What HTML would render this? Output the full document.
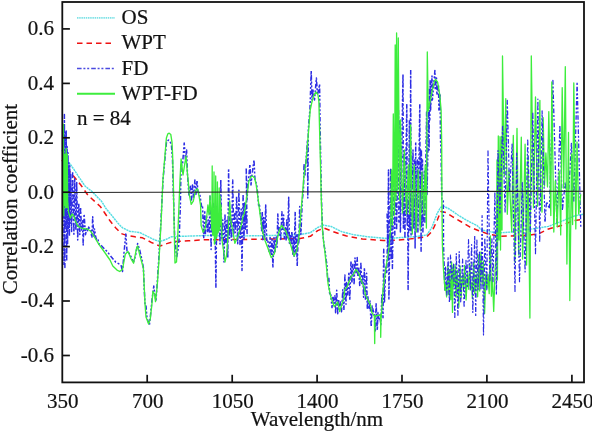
<!DOCTYPE html>
<html><head><meta charset="utf-8"><style>html,body{margin:0;padding:0;background:#fff;overflow:hidden}svg{display:block}</style></head>
<body><svg width="592" height="433" viewBox="0 0 592 433">
<style>.t{font-family:"Liberation Serif","Times New Roman",serif;font-size:21px;fill:#111;stroke:#111;stroke-width:0.22px}</style>
<rect width="592" height="433" fill="#fff"/>
<g><polyline points="62.0,150.0 64.0,155.0 67.6,160.4 73.9,169.4 79.4,177.8 85.0,186.0 92.0,191.5 97.5,197.2 101.7,201.5 105.8,208.3 112.8,216.7 118.3,223.6 122.5,227.8 129.4,231.2 140.0,232.6 148.0,236.7 155.0,240.0 159.9,241.5 166.1,239.4 171.7,236.7 178.6,236.4 192.5,236.0 205.0,235.5 240.0,236.0 270.0,235.5 300.0,234.6 310.4,232.7 317.7,227.5 322.9,225.0 331.2,226.5 341.7,231.7 354.2,234.8 368.7,236.9 387.5,238.6 397.3,237.8 414.7,236.7 426.8,235.0 432.0,227.2 437.2,213.3 440.7,207.3 444.1,206.4 449.3,209.0 458.0,215.0 466.7,220.3 477.0,225.5 481.7,230.0 490.0,231.8 499.7,232.8 512.2,232.0 516.2,230.8 532.3,228.9 548.5,226.4 564.7,220.0 574.4,216.0 583.0,214.3" fill="none" stroke="#55dde2" stroke-width="1.45" stroke-dasharray="2.2 0.6" stroke-linejoin="round"/><polyline points="62.0,160.0 65.0,165.0 69.0,170.8 73.9,176.4 80.8,185.0 87.8,195.0 94.7,201.4 100.3,206.5 104.4,212.5 110.0,220.8 115.6,227.8 121.1,233.5 126.7,235.4 135.0,236.8 142.5,237.8 150.8,242.2 159.9,246.1 166.8,243.6 174.4,241.5 188.3,240.8 206.4,239.7 240.0,239.5 300.0,238.6 310.4,236.3 317.7,230.6 324.0,228.1 333.3,231.7 345.8,235.8 362.5,239.0 383.3,240.5 397.3,240.2 414.7,238.5 426.8,236.7 432.0,231.5 437.2,220.3 440.7,211.6 445.9,212.5 452.8,216.8 461.5,222.0 470.1,227.2 478.8,230.7 488.6,234.2 499.7,236.3 509.4,236.0 520.0,235.8 530.0,235.0 538.8,233.7 548.5,228.9 561.4,225.6 572.8,220.8 583.0,219.2" fill="none" stroke="#ee1111" stroke-width="1.5" stroke-dasharray="5.5 4" stroke-linejoin="round"/><polyline points="63.5,128.9 64.0,265.5 64.4,114.4 64.9,267.4 65.3,131.2 65.8,227.6 66.2,130.9 66.7,261.2 67.1,146.6 67.6,244.1 68.0,152.7 68.5,228.5 68.9,162.9 69.4,235.7 69.8,166.1 70.3,223.3 70.7,174.6 71.6,231.6 72.6,172.0 73.9,234.2 74.7,178.7 75.9,230.4 76.7,182.6 77.7,240.0 78.8,203.4 79.8,234.6 80.6,207.8 81.5,230.0 82.4,220.0 83.2,245.0 84.1,214.0 85.5,234.7 86.7,227.9 87.7,231.6 88.7,227.1 89.8,229.0 90.7,230.2 91.9,237.7 92.7,216.7 93.8,237.5 94.5,228.9 95.7,237.0 96.8,239.9 98.0,239.3 98.9,244.3 99.7,243.9 101.7,246.0 107.2,251.6 111.4,257.0 115.6,262.0 121.0,265.0 122.5,271.5 124.0,252.8 125.8,234.0 127.0,251.0 129.4,253.6 133.6,261.9 135.7,255.0 137.6,243.6 139.7,250.0 142.0,260.0 143.4,268.0 144.2,288.0 145.1,306.0 146.0,305.9 147.0,318.0 149.4,325.0 150.5,315.0 152.0,300.0 153.8,286.0 155.0,296.0 156.0,300.0 157.2,284.0 159.0,255.0 161.0,220.0 163.0,180.0 165.0,158.0 166.5,142.0 168.5,140.0 170.0,141.0 171.5,146.0 172.5,160.0 173.3,190.0 174.6,235.0 176.6,258.0 178.6,246.0 179.4,232.0 180.4,205.0 181.0,165.0 182.5,165.0 184.2,143.0 185.5,160.0 186.6,150.0 187.5,175.0 189.0,195.0 190.5,185.0 191.5,200.0 192.5,185.0 193.5,198.0 194.9,179.9 196.0,195.0 197.0,180.4 198.0,192.0 199.6,192.9 201.6,206.4 202.5,205.4 203.7,238.5 204.7,210.6 205.4,233.6 206.6,216.6 207.5,232.5 208.5,219.9 209.3,233.0 210.0,196.0 211.1,249.5 211.8,208.2 212.5,229.4 213.4,203.4 214.1,232.9 215.0,218.8 215.9,288.0 216.8,206.4 217.8,233.4 218.9,216.1 220.0,244.0 220.8,179.4 221.7,238.2 222.8,219.9 224.0,262.0 225.0,215.0 225.9,242.4 227.0,219.3 227.8,258.0 228.6,168.8 229.5,238.2 230.3,216.2 231.5,240.3 232.7,179.9 233.7,235.2 234.6,213.6 235.5,232.6 236.6,196.0 237.7,243.8 238.9,190.3 240.0,244.5 241.2,209.1 242.0,270.4 243.1,195.0 244.0,240.1 244.6,202.9 245.3,229.2 245.9,208.8 247.1,233.5 246.2,167.7 247.0,200.0 248.0,185.0 249.9,164.6 251.0,185.0 252.0,175.0 254.0,159.9 255.0,180.0 256.6,184.3 257.5,191.9 258.6,205.4 259.5,205.2 260.1,212.4 260.8,215.5 261.6,230.7 262.3,212.0 262.9,239.7 263.7,217.5 264.7,238.8 265.7,205.0 266.7,240.5 267.8,239.3 268.9,251.3 270.1,237.4 271.1,255.3 272.0,238.2 272.9,267.6 274.0,237.6 274.9,253.3 276.1,237.3 277.0,247.2 277.8,213.9 278.8,236.2 279.7,227.8 280.8,239.4 281.9,211.8 282.6,230.9 283.6,215.0 284.3,238.4 285.1,226.8 286.1,240.9 286.8,219.7 287.6,237.7 288.7,197.3 289.4,243.3 290.3,234.7 291.0,243.5 291.9,231.1 292.8,254.9 293.4,237.1 294.1,256.2 295.2,211.8 295.8,253.6 296.6,233.8 297.2,266.4 298.2,234.4 298.8,243.9 299.7,206.6 300.9,234.4 302.3,200.0 303.5,190.0 304.0,164.0 305.0,175.0 306.0,160.0 307.5,140.0 307.8,197.9 308.3,130.0 310.0,108.0 311.2,71.0 312.0,100.0 313.0,90.0 314.5,100.0 316.4,78.0 317.5,95.0 318.5,90.0 319.6,84.3 320.0,120.0 320.8,165.0 321.5,200.0 322.5,230.0 324.0,245.0 325.2,251.1 326.2,260.2 326.9,264.2 327.8,282.2 328.8,277.6 329.6,293.2 330.8,294.8 332.0,307.6 333.0,296.1 333.7,303.6 334.9,295.8 335.6,312.7 336.7,290.3 337.7,313.7 338.6,299.8 339.3,307.1 340.5,302.0 341.5,311.8 342.8,289.8 343.9,310.0 344.9,275.0 346.0,304.3 346.6,282.5 347.7,295.6 348.9,272.1 349.8,300.0 351.0,260.8 351.9,283.2 352.9,263.1 354.1,284.6 355.0,257.9 356.2,273.8 357.2,257.6 357.9,276.3 358.7,267.4 359.7,285.5 360.9,262.7 361.6,283.4 362.7,274.5 363.6,297.2 364.4,267.9 365.5,300.1 366.6,273.2 367.3,308.2 367.9,296.7 368.9,309.5 370.0,300.9 371.2,326.8 372.2,306.1 373.4,311.4 374.6,313.6 375.3,331.8 376.1,303.2 377.3,330.0 378.0,312.4 378.6,320.2 379.7,314.9 380.8,324.7 381.9,294.9 383.0,317.8 383.7,249.2 384.5,301.9 385.7,267.2 386.8,273.4 387.6,231.6 388.8,263.5 387.1,214.0 387.8,250.0 388.5,170.0 388.9,300.0 390.7,168.0 391.1,260.0 392.0,180.0 392.4,268.6 394.4,140.0 394.8,235.0 396.2,70.0 396.6,230.0 398.5,110.6 398.9,222.0 400.0,120.0 400.4,232.0 403.0,74.0 403.4,228.0 404.5,150.0 404.9,238.0 406.8,104.0 407.2,225.0 407.7,199.0 408.1,289.4 409.4,120.0 409.8,230.0 410.7,70.0 411.1,236.0 413.0,150.0 413.4,228.0 414.7,160.0 415.1,248.0 415.7,142.0 416.1,226.0 417.5,160.0 417.9,232.0 419.8,104.0 420.2,225.0 420.7,150.0 421.1,251.3 421.4,150.0 421.8,224.5 422.5,160.0 422.9,232.0 424.5,170.0 424.9,223.5 426.6,112.0 427.0,194.4 428.7,112.0 429.1,150.0 429.4,88.0 429.8,120.0 430.2,80.0 430.6,110.0 432.0,76.0 432.4,100.0 434.9,70.4 435.3,90.0 436.5,78.0 436.9,95.0 438.5,85.0 438.9,110.0 440.1,95.0 440.5,140.0 441.0,150.0 441.8,200.0 443.3,201.0 443.5,245.0 444.9,290.0 445.5,266.6" fill="none" stroke="#2d2de4" stroke-width="1.5" stroke-dasharray="4.6 1.8 2 1.8 2 2" stroke-linejoin="round"/><polyline points="545.0,221.7 546.5,201.7 549.5,208.9 552.9,80.4 556.9,222.8 559.9,125.5 562.4,210.4 565.2,182.3 567.8,207.9 571.4,143.5 573.8,201.0 577.1,82.0 580.8,227.5" fill="none" stroke="#2d2de4" stroke-width="1.3" stroke-dasharray="4.6 1.8 2 1.8 2 2" stroke-linejoin="round"/><polyline points="62.6,124.0 63.0,213.6 63.4,124.2 63.8,215.7 64.2,154.1 64.7,205.4 65.2,154.2 65.7,207.9 66.2,148.4 66.7,207.4 67.2,154.2 67.7,207.3 67.6,200.0 68.5,212.0 70.4,218.0 72.0,214.0 73.9,216.0 75.3,220.8 78.0,226.4 82.2,228.5 87.8,229.2 90.6,231.2 94.7,237.5 98.9,244.4 103.0,250.0 107.2,256.0 110.0,260.0 112.8,266.0 117.0,270.1 119.7,271.5 122.5,269.4 125.3,254.2 128.0,251.4 130.8,258.3 133.6,263.2 136.4,249.0 137.6,246.0 139.7,254.7 142.5,265.0 143.4,268.7 144.2,286.0 145.1,305.0 146.0,317.1 148.6,324.0 150.3,318.9 152.0,303.3 152.9,291.2 154.6,294.6 155.5,301.6 157.2,286.0 159.0,260.0 161.2,220.0 162.9,180.0 165.0,154.7 166.4,138.0 167.8,133.9 169.2,133.2 170.8,134.6 172.0,142.2 172.6,154.7 173.3,180.0 174.0,220.0 175.0,263.0 176.5,262.0 178.0,230.0 180.0,180.0 181.1,159.0 183.0,175.0 186.0,156.2 187.1,170.0 188.6,185.6 189.2,193.9 190.2,199.1 191.2,204.3 193.3,201.2 195.4,190.8 197.5,188.7 199.0,196.0 200.6,205.4 201.1,225.6 203.2,232.4" fill="none" stroke="#3ded3d" stroke-width="1.35" stroke-linejoin="round"/><polyline points="203.2,232.4 205.3,227.7 206.8,216.2 207.9,205.0 209.0,215.0 210.0,196.0 211.0,215.0 211.8,230.0 212.2,166.0 212.6,235.0 213.6,235.0 214.0,172.0 214.4,244.0 215.3,240.0 215.7,176.0 216.1,238.0 217.0,236.0 217.4,182.0 217.8,233.0 218.8,230.0 219.2,188.0 219.6,230.0 220.1,196.0 220.5,225.0 221.0,205.0 222.0,240.0 223.5,250.0 225.0,262.0 226.6,255.0 228.0,235.0 229.7,201.0 231.0,222.0 232.8,230.8 234.9,243.3 238.0,236.0 241.2,225.6 243.2,215.2 244.2,213.9 247.3,193.1" fill="none" stroke="#3ded3d" stroke-width="1.3" stroke-linejoin="round"/><polyline points="247.3,193.1 248.8,181.2 250.9,177.0 252.5,176.0 254.6,178.0 256.1,184.3 257.2,192.0 258.7,203.5 260.3,216.0 261.8,227.4 263.0,233.0 265.0,240.4 268.1,248.7 271.2,257.6 274.3,253.9 277.4,238.3 279.5,230.0 281.6,225.4 283.5,228.0 285.8,231.0 289.9,242.5 294.1,256.0 296.7,250.8 298.2,241.0 298.8,238.0 300.6,216.9 302.3,196.1 304.0,175.4 306.0,162.0 308.1,137.0 310.2,110.0 312.0,101.7 314.0,95.0 316.1,92.0 318.0,95.0 318.9,101.7 319.6,130.0 320.5,165.0 321.3,199.6 322.2,225.6 323.4,240.0 324.7,250.0 326.5,267.3 328.2,284.7 330.8,296.8 334.2,306.7 337.7,302.0 339.7,311.5 342.0,303.7 343.9,298.3 344.7,289.9 347.3,286.4 348.7,282.4 351.6,276.0 352.9,275.2 356.0,269.4 358.6,273.1 361.2,280.4 364.3,287.6 365.5,295.0 370.7,305.5 371.7,312.2 374.4,316.4 374.7,343.5 375.0,316.0 380.7,315.0 380.7,337.2 381.0,320.0 382.8,293.3 383.5,285.0 386.2,265.8" fill="none" stroke="#3ded3d" stroke-width="1.35" stroke-linejoin="round"/><polyline points="386.2,265.8 388.7,250.2 390.7,228.0 391.5,170.0 392.5,225.0 393.3,114.0 394.5,215.0 395.2,45.0 396.0,200.0 396.6,33.0 397.5,190.0 398.3,38.0 399.5,200.0 400.5,120.0 402.5,213.0 404.3,150.0 406.5,214.0 408.3,165.0 409.6,214.0 410.6,125.0 412.3,234.0 414.2,165.0 416.3,232.0 418.2,170.0 420.2,230.0 422.0,172.0 423.8,214.0 425.2,165.0 426.4,228.0 427.3,52.0 428.3,111.4" fill="none" stroke="#3ded3d" stroke-width="1.3" stroke-linejoin="round"/><polyline points="428.3,111.4 430.0,101.7 432.8,87.8 434.5,81.0 435.6,79.4 437.6,82.2 439.7,94.7 441.1,110.0 441.7,145.0 441.9,200.0 442.4,245.0 443.5,270.0" fill="none" stroke="#3ded3d" stroke-width="1.35" stroke-linejoin="round"/><polyline points="443.5,270.0 445.0,290.3 445.5,284.5 446.6,296.9 447.9,265.4 448.6,294.8 449.4,269.6 450.8,299.7 451.6,262.1 452.5,312.4 453.2,265.6 454.0,286.3 455.1,264.6 456.1,297.2 457.4,270.4 458.8,307.2 460.1,266.2 461.1,298.0 462.6,275.5 463.7,288.5 464.6,265.4 466.1,300.0 467.5,273.2 468.7,289.3 469.8,263.6 470.9,288.5 471.6,283.0 472.4,298.6 473.7,262.3 474.8,293.7 476.3,274.1 477.6,296.8 478.5,255.0 479.7,291.1 481.0,252.0 482.3,285.2 483.4,261.1 484.6,313.5 485.8,274.1 487.0,288.1 488.0,274.5 489.2,293.7 490.3,236.0 491.4,296.2 492.4,277.1 493.7,311.4 495.2,267.7 496.5,250.0 497.0,160.0 497.4,280.0 498.3,136.0 499.0,240.0 500.0,136.7 500.5,250.0 501.5,136.7 502.0,230.0 502.5,56.0 504.3,175.4 505.8,98.7 507.3,214.3 509.0,170.2 511.7,231.8 513.3,135.5 514.9,262.0 517.0,128.5 518.7,255.0 521.3,137.2 522.6,259.0 525.1,144.2 526.6,265.0 528.0,156.4 529.9,318.0 531.3,56.0 533.5,207.8 535.5,97.0 537.5,206.3 539.9,100.4 540.5,189.5 542.0,212.1 543.2,117.7 544.5,186.0 545.9,153.0 547.5,186.9 548.8,111.6 550.8,215.6 551.8,82.0 553.8,232.1 555.3,181.0 557.2,226.5 559.2,170.9 560.7,234.9 562.2,87.7 563.7,188.2 565.3,66.7 566.9,264.0 568.5,132.4 569.8,300.5 571.6,154.0 572.6,224.5 573.8,82.8 575.8,228.9 577.0,142.0 578.7,214.0 580.7,194.2" fill="none" stroke="#3ded3d" stroke-width="1.3" stroke-linejoin="round"/><polyline points="445.5,266.6 446.9,295.0 448.1,256.9 449.4,303.0 450.5,255.0 451.8,279.0 453.6,264.1 454.8,318.7 456.3,253.7 457.9,316.6 459.2,251.7 460.7,301.8 462.6,259.1 464.1,307.2 466.0,260.4 467.2,287.9 468.5,239.7 470.3,289.9 471.6,244.6 472.8,312.4 474.7,235.6 475.7,316.6 476.9,240.0 478.1,289.7 479.5,252.0 481.0,290.1 482.1,215.6 483.5,335.0 484.8,238.0 486.8,289.8 488.0,150.0 489.9,280.7 491.9,238.9 493.0,281.6 494.9,192.0 496.4,294.8 498.0,150.6 499.9,212.9 502.6,126.3 505.1,212.9 507.3,100.4 509.6,191.8 512.1,144.1 515.0,291.4 516.7,153.1 519.5,281.7 522.3,182.6 525.1,272.0 527.7,139.3 530.3,232.3 532.8,112.5 535.5,254.3 537.9,99.0 539.7,241.9 542.1,110.8 545.0,221.7" fill="none" stroke="#2d2de4" stroke-width="1.2" stroke-dasharray="4.6 1.8 2 1.8 2 2" stroke-linejoin="round"/></g>
<g><line x1="62.3" y1="192.5" x2="584.0" y2="191.2" stroke="#222" stroke-width="1.1"/><rect x="62.3" y="2.0" width="521.7" height="380.4" fill="none" stroke="#111" stroke-width="1.8"/><line x1="62.3" y1="28.9" x2="69.89999999999999" y2="28.9" stroke="#111" stroke-width="1.7"/><line x1="62.3" y1="83.4" x2="69.89999999999999" y2="83.4" stroke="#111" stroke-width="1.7"/><line x1="62.3" y1="137.8" x2="69.89999999999999" y2="137.8" stroke="#111" stroke-width="1.7"/><line x1="62.3" y1="192.2" x2="69.89999999999999" y2="192.2" stroke="#111" stroke-width="1.7"/><line x1="62.3" y1="246.6" x2="69.89999999999999" y2="246.6" stroke="#111" stroke-width="1.7"/><line x1="62.3" y1="301.0" x2="69.89999999999999" y2="301.0" stroke="#111" stroke-width="1.7"/><line x1="62.3" y1="355.5" x2="69.89999999999999" y2="355.5" stroke="#111" stroke-width="1.7"/><line x1="147.2" y1="382.4" x2="147.2" y2="374.79999999999995" stroke="#111" stroke-width="1.7"/><line x1="232.2" y1="382.4" x2="232.2" y2="374.79999999999995" stroke="#111" stroke-width="1.7"/><line x1="317.1" y1="382.4" x2="317.1" y2="374.79999999999995" stroke="#111" stroke-width="1.7"/><line x1="402.0" y1="382.4" x2="402.0" y2="374.79999999999995" stroke="#111" stroke-width="1.7"/><line x1="486.9" y1="382.4" x2="486.9" y2="374.79999999999995" stroke="#111" stroke-width="1.7"/><line x1="571.9" y1="382.4" x2="571.9" y2="374.79999999999995" stroke="#111" stroke-width="1.7"/></g>
<g><text x="54" y="35.2" text-anchor="end" class="t">0.6</text><text x="54" y="89.7" text-anchor="end" class="t">0.4</text><text x="54" y="144.1" text-anchor="end" class="t">0.2</text><text x="54" y="198.5" text-anchor="end" class="t">0.0</text><text x="54" y="252.9" text-anchor="end" class="t">-0.2</text><text x="54" y="307.3" text-anchor="end" class="t">-0.4</text><text x="54" y="361.8" text-anchor="end" class="t">-0.6</text><text x="62.8" y="407.5" text-anchor="middle" class="t">350</text><text x="147.7" y="407.5" text-anchor="middle" class="t">700</text><text x="232.7" y="407.5" text-anchor="middle" class="t">1050</text><text x="317.6" y="407.5" text-anchor="middle" class="t">1400</text><text x="402.5" y="407.5" text-anchor="middle" class="t">1750</text><text x="487.4" y="407.5" text-anchor="middle" class="t">2100</text><text x="572.4" y="407.5" text-anchor="middle" class="t">2450</text><text x="317" y="426" text-anchor="middle" class="t">Wavelength/nm</text><text transform="translate(16.6,199) rotate(-90)" text-anchor="middle" class="t">Correlation coefficient</text></g>
<g><line x1="77" y1="17.9" x2="115" y2="17.9" stroke="#7fe2e6" stroke-width="1.7" stroke-dasharray="1.5 0.7"/><text x="121.5" y="23.9" class="t">OS</text><line x1="77" y1="43.2" x2="115" y2="43.2" stroke="#ee1111" stroke-width="1.5" stroke-dasharray="5.5 4"/><text x="121.5" y="49.2" class="t">WPT</text><line x1="77" y1="68.5" x2="115" y2="68.5" stroke="#4a4ae0" stroke-width="1.4" stroke-dasharray="4.6 1.8 2 1.8 2 2"/><text x="121.5" y="74.5" class="t">FD</text><line x1="77" y1="93.8" x2="115" y2="93.8" stroke="#3ded3d" stroke-width="2.0"/><text x="121.5" y="99.8" class="t">WPT-FD</text><text x="77" y="124.5" class="t">n = 84</text></g>
</svg></body></html>
